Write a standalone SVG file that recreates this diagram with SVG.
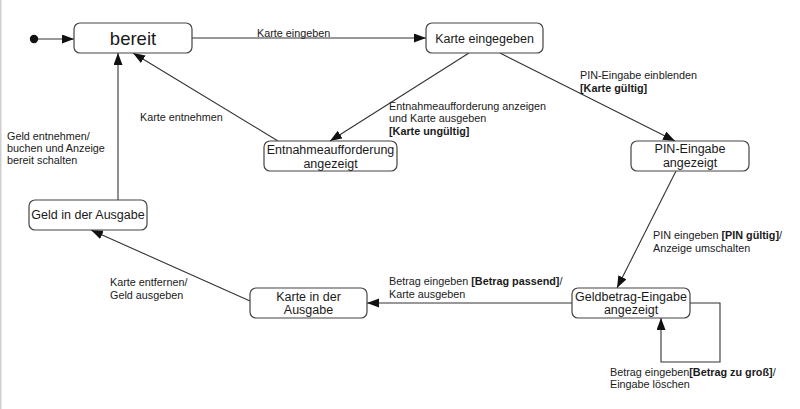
<svg xmlns="http://www.w3.org/2000/svg" width="800" height="409" viewBox="0 0 800 409">
<defs>
<marker id="arr" markerUnits="userSpaceOnUse" markerWidth="13" markerHeight="10" refX="12" refY="4.5" orient="auto">
<path d="M0,0 L12,4.5 L0,9 z" fill="#111"/>
</marker>
<style>
.node rect{fill:#fff;stroke:#444;stroke-width:1.2}
.nt{font-family:"Liberation Sans",Arial,sans-serif;font-size:12.5px;fill:#1a1a1a;text-anchor:middle}
.lbl{font-family:"Liberation Sans",Arial,sans-serif;font-size:10.8px;fill:#1a1a1a}
.b{font-weight:bold}
.edge{fill:none;stroke:#333;stroke-width:1.1;marker-end:url(#arr)}
</style>
</defs>
<rect width="800" height="409" fill="#fff"/>
<line x1="0.75" y1="0" x2="0.75" y2="409" stroke="#cfcfcf" stroke-width="1.5"/>

<g id="connectors">
<circle cx="34" cy="39" r="4.2" fill="#111"/>
<line class="edge" x1="38" y1="39" x2="74" y2="39"/>
<line class="edge" x1="192" y1="38" x2="426" y2="38"/>
<line class="edge" x1="469" y1="53" x2="330" y2="141"/>
<line class="edge" x1="278" y1="141" x2="133" y2="53"/>
<line class="edge" x1="500" y1="53" x2="675" y2="141"/>
<line class="edge" x1="676" y1="171" x2="617" y2="288"/>
<line class="edge" x1="572" y1="303" x2="367" y2="303"/>
<polyline class="edge" points="690,303 720,303 720,362 661,362 661,318"/>
<line class="edge" x1="250" y1="301" x2="91" y2="230"/>
<line class="edge" x1="118" y1="200" x2="118" y2="53"/>
</g>

<g id="labels">
<text class="lbl" x="257" y="37">Karte eingeben</text>
<text class="lbl" x="140" y="121">Karte entnehmen</text>
<text class="lbl" x="7" y="140">Geld entnehmen/</text>
<text class="lbl" x="7" y="152">buchen und Anzeige</text>
<text class="lbl" x="7" y="164">bereit schalten</text>
<text class="lbl" x="389" y="110">Entnahmeaufforderung anzeigen</text>
<text class="lbl" x="389" y="122">und Karte ausgeben</text>
<text class="lbl b" x="389" y="135">[Karte ungültig]</text>
<text class="lbl" x="580" y="79">PIN-Eingabe einblenden</text>
<text class="lbl b" x="580" y="92">[Karte gültig]</text>
<text class="lbl" x="653" y="239">PIN eingeben <tspan class="b">[PIN gültig]</tspan>/</text>
<text class="lbl" x="653" y="252">Anzeige umschalten</text>
<text class="lbl" x="389" y="285">Betrag eingeben <tspan class="b">[Betrag passend]</tspan>/</text>
<text class="lbl" x="389" y="298">Karte ausgeben</text>
<text class="lbl" x="610" y="376">Betrag eingeben<tspan class="b">[Betrag zu groß]</tspan>/</text>
<text class="lbl" x="610" y="388">Eingabe löschen</text>
<text class="lbl" x="110" y="286">Karte entfernen/</text>
<text class="lbl" x="110" y="299">Geld ausgeben</text>
</g>

<g id="bereit" class="node">
<rect x="74" y="23" width="118" height="30" rx="6"/>
<text class="nt" x="133" y="44.5" style="font-size:18.5px">bereit</text>
</g>
<g id="karte-eingegeben" class="node">
<rect x="426" y="23" width="117" height="30" rx="6"/>
<text class="nt" x="484.5" y="42.5">Karte eingegeben</text>
</g>
<g id="entnahmeaufforderung" class="node">
<rect x="264" y="141" width="133" height="30" rx="6"/>
<text class="nt" x="330.5" y="153.5">Entnahmeaufforderung</text>
<text class="nt" x="330.5" y="167.5">angezeigt</text>
</g>
<g id="pin-eingabe" class="node">
<rect x="631" y="141" width="118" height="30" rx="6"/>
<text class="nt" x="690" y="152.5">PIN-Eingabe</text>
<text class="nt" x="690" y="166.5">angezeigt</text>
</g>
<g id="geld-ausgabe" class="node">
<rect x="29" y="200" width="118" height="30" rx="6"/>
<text class="nt" x="88" y="218.5">Geld in der Ausgabe</text>
</g>
<g id="karte-ausgabe" class="node">
<rect x="250" y="288" width="117" height="30" rx="6"/>
<text class="nt" x="308.5" y="300.5">Karte in der</text>
<text class="nt" x="308.5" y="313.5">Ausgabe</text>
</g>
<g id="geldbetrag-eingabe" class="node">
<rect x="572" y="288" width="118" height="30" rx="6"/>
<text class="nt" x="631" y="300.5">Geldbetrag-Eingabe</text>
<text class="nt" x="631" y="313.5">angezeigt</text>
</g>
</svg>
